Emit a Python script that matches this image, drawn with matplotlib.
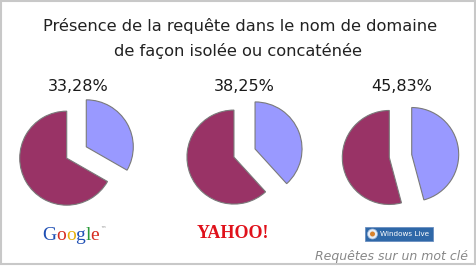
import matplotlib
matplotlib.use("Agg")
import matplotlib.pyplot as plt
from matplotlib.patches import Rectangle, Circle

# ---- data ----
engines = ["Google", "Yahoo!", "Windows Live"]
isolated_pct = [33.28, 38.25, 45.83]
pct_labels = ["33,28%", "38,25%", "45,83%"]
title_lines = ["Présence de la requête dans le nom de domaine",
               "de façon isolée ou concaténée"]
footer = "Requêtes sur un mot clé"

# ---- layout ----
W, H = 477, 266
def Y(y):
    return H - y

fig = plt.figure(figsize=(W / 100, H / 100), dpi=100)
ax = fig.add_axes([0, 0, 1, 1])

centers = [(76.5, 152.5), (244.5, 153), (400.5, 156)]
label_x = [78, 244, 402]
blue, maroon = "#9999FF", "#993366"
R = 47
EXPL = 11.3

for (cx, cy), p in zip(centers, isolated_pct):
    ax.pie([p, 100 - p], colors=[blue, maroon], startangle=90, counterclock=False,
           explode=[EXPL, EXPL], radius=R, center=(cx, Y(cy)),
           wedgeprops=dict(edgecolor="#7a7a7a", linewidth=0.8), frame=True)

for x, lab in zip(label_x, pct_labels):
    ax.text(x, Y(91), lab, ha="center", va="baseline", fontsize=11.5,
            color="#1a1a1a", family="DejaVu Sans")

ax.text(240.5, Y(31), title_lines[0], ha="center", va="baseline", fontsize=11.7,
        color="#222222", family="DejaVu Sans")
ax.text(238.5, Y(56), title_lines[1], ha="center", va="baseline", fontsize=11.7,
        color="#222222", family="DejaVu Sans")

# Google logo
word = "Google"
g_colors = ["#1f4fb4", "#d62d20", "#e8b00c", "#1f4fb4", "#2a9a3a", "#d62d20"]
renderer = fig.canvas.get_renderer()
x0 = 42
def prefix_width(s):
    if not s:
        return 0.0
    t = ax.text(0, 0, s, fontsize=14, family="Liberation Serif")
    w = t.get_window_extent(renderer=renderer).width
    t.remove()
    return w
for i, (ch, col) in enumerate(zip(word, g_colors)):
    ax.text(x0 + prefix_width(word[:i]), Y(240), ch, ha="left", va="baseline",
            fontsize=14, color=col, family="Liberation Serif")
xe = x0 + prefix_width(word)
ax.text(xe + 0.5, Y(231), "™", ha="left", va="baseline", fontsize=4,
        color="#888888", family="DejaVu Sans")

# Yahoo logo
ax.text(233, Y(238), "YAHOO!", ha="center", va="baseline", fontsize=13,
        color="#e0111b", family="Liberation Serif", fontweight="bold")

# Windows Live logo
ax.add_patch(Rectangle((365, Y(241)), 68, 14, facecolor="#2f68a8",
                       edgecolor="#6a8fc0", linewidth=0.6))
ax.add_patch(Circle((372.5, Y(234)), 5, facecolor="#e8eef6", edgecolor="#9fb6d8", lw=0.5))
ax.add_patch(Circle((372.5, Y(234)), 2.5, facecolor="#d9822b", edgecolor="none"))
ax.text(380, Y(234), "Windows Live", ha="left", va="center", fontsize=5.2,
        color="white", family="DejaVu Sans")

# footer
ax.text(468, Y(260), footer, ha="right", va="baseline", fontsize=9,
        color="#888888", family="DejaVu Sans", style="italic")

# border
ax.add_patch(Rectangle((1, Y(264)), 474, 263, facecolor="none",
                       edgecolor="#c8c8c8", linewidth=1.5))

ax.set_xlim(0, W)
ax.set_ylim(0, H)
ax.set_aspect("auto")
ax.axis("off")
fig.savefig("out.png", dpi=100, facecolor="white")
